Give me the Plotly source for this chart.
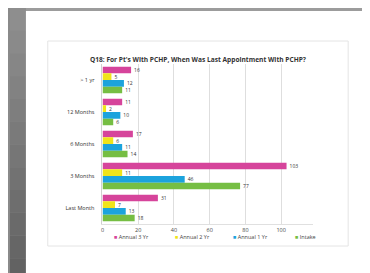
import plotly.graph_objects as go

categories = ["> 1 yr", "12 Months", "6 Months", "3 Months", "Last Month"]
annual_3yr = [16, 11, 17, 103, 31]
annual_2yr = [5, 2, 6, 11, 7]
annual_1yr = [12, 10, 11, 46, 13]
intake = [11, 6, 14, 77, 18]
series_names = ["Annual 3 Yr", "Annual 2 Yr", "Annual 1 Yr", "Intake"]
x_ticks = [0, 20, 40, 60, 80, 100]

colors = {"Annual 3 Yr": "#D6449B", "Annual 2 Yr": "#F0E41A",
          "Annual 1 Yr": "#1CA3DD", "Intake": "#76BE43"}
values = {"Annual 3 Yr": annual_3yr, "Annual 2 Yr": annual_2yr,
          "Annual 1 Yr": annual_1yr, "Intake": intake}

W, H = 370, 273
def px(x): return x / W
def py(y): return 1 - y / H

fig = go.Figure()
for name in series_names:
    fig.add_trace(go.Bar(
        y=categories, x=values[name], name=name, orientation="h",
        marker=dict(color=colors[name], line=dict(width=0)),
        text=values[name], textposition="outside", cliponaxis=False,
        textfont=dict(size=5, color="#333333", family="Open Sans"),
        showlegend=False,
    ))

shapes = []
n = 12
for i in range(n):
    g1 = int(0x8e - (0x8e - 0x62) * i / (n - 1))
    shapes.append(dict(type="rect", xref="paper", yref="paper",
                       x0=0, x1=px(16), y0=py(H * (i + 1) / n), y1=py(H * i / n),
                       fillcolor=f"rgb({g1},{g1},{g1})", line=dict(width=0), layer="below"))
    g2 = int(0xa0 - (0xa0 - 0x48) * i / (n - 1))
    shapes.append(dict(type="rect", xref="paper", yref="paper",
                       x0=px(366), x1=1, y0=py(H * (i + 1) / n), y1=py(H * i / n),
                       fillcolor=f"rgb({g2},{g2},{g2})", line=dict(width=0), layer="below"))
shapes.append(dict(type="rect", xref="paper", yref="paper", x0=px(16), x1=px(366),
                   y0=py(3), y1=1, fillcolor="#9c9c9c", line=dict(width=0), layer="below"))
shapes.append(dict(type="rect", xref="paper", yref="paper", x0=px(16), x1=px(366),
                   y0=0, y1=py(3), fillcolor="#ffffff", line=dict(width=0), layer="below"))
shapes.append(dict(type="rect", xref="paper", yref="paper", x0=px(38), x1=px(340),
                   y0=py(238), y1=py(33), fillcolor="#ffffff",
                   line=dict(width=1, color="#e4e4e4"), layer="below"))

legend_x = [103, 164, 222, 285]
annotations = []
for name, lx in zip(series_names, legend_x):
    annotations.append(dict(
        xref="paper", yref="paper", x=px(lx), y=py(229), xanchor="left", yanchor="middle",
        showarrow=False,
        text=f'<span style="color:{colors[name]}">■</span> {name}',
        font=dict(size=5.5, color="#444444", family="Open Sans")))

fig.update_layout(
    width=W, height=H,
    margin=dict(l=0, r=0, t=0, b=0),
    paper_bgcolor="#8a8a8a", plot_bgcolor="rgba(0,0,0,0)",
    shapes=shapes, annotations=annotations,
    barmode="group", bargap=0.17, bargroupgap=0.0,
    font=dict(family="Open Sans", color="#404040"),
    title=dict(text="<b>Q18: For Pt's With PCHP, When Was Last Appointment With PCHP?</b>",
               x=px(190), y=py(52), xanchor="center", yanchor="middle",
               font=dict(size=6.6, color="#333333", family="Open Sans")),
    xaxis=dict(domain=[px(93), px(305)], range=[0, 118], tickvals=x_ticks,
               showgrid=True, gridcolor="#dedede", gridwidth=1, zeroline=False,
               showline=True, linecolor="#e0e0e0", linewidth=1,
               tickfont=dict(size=5.5, color="#444444"), ticks="", ticklen=0),
    yaxis=dict(domain=[py(216), py(56)], categoryorder="array", categoryarray=categories,
               autorange="reversed", showgrid=False, showline=True, linecolor="#d0d0d0",
               linewidth=1, ticks="", tickfont=dict(size=5.5, color="#333333"),
               ticklabelstandoff=6),
    showlegend=False,
)
fig.write_html("out.html")
